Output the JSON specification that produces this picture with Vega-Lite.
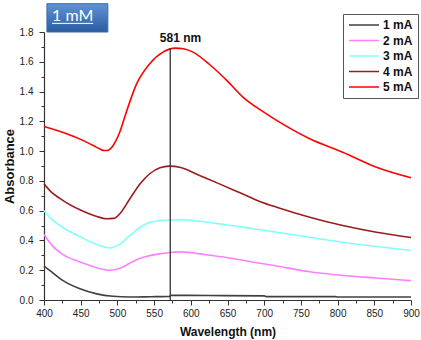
{
  "$schema": "https://vega.github.io/schema/vega-lite/v6.json",
  "autosize": "none",
  "width": 367,
  "height": 268,
  "padding": {"left": 44, "top": 32, "right": 10, "bottom": 40},
  "background": "white",
  "config": {
    "view": {"stroke": null},
    "font": "Liberation Sans",
    "axis": {
      "domainColor": "#333333",
      "domainWidth": 1.2,
      "tickColor": "#333333",
      "tickWidth": 1,
      "labelFont": "Liberation Sans",
      "labelFontSize": 10,
      "labelColor": "#222222",
      "labelOverlap": false,
      "titleFont": "Liberation Sans",
      "titleFontWeight": "bold",
      "titleColor": "#111111",
      "grid": false
    }
  },
  "layer": [
    {
      "data": {"values": [{}]},
      "mark": {
        "type": "rect",
        "stroke": "#3a68a8",
        "strokeWidth": 1,
        "fill": {
          "gradient": "linear",
          "x1": 0, "y1": 0, "x2": 0, "y2": 1,
          "stops": [
            {"offset": 0, "color": "#5f93d6"},
            {"offset": 1, "color": "#2c5c9f"}
          ]
        }
      },
      "encoding": {
        "x": {"datum": 404, "type": "quantitative"},
        "x2": {"datum": 487},
        "y": {"datum": 1.8, "type": "quantitative"},
        "y2": {"datum": 1.99}
      }
    },
    {
      "data": {"values": [{}]},
      "mark": {"type": "text", "font": "Lato", "fontSize": 16, "color": "white", "align": "center", "baseline": "middle"},
      "encoding": {
        "x": {"datum": 439, "type": "quantitative"},
        "y": {"datum": 1.91, "type": "quantitative"},
        "text": {"value": "1 mM"}
      }
    },
    {
      "data": {"values": [{}]},
      "mark": {"type": "rule", "color": "white", "strokeWidth": 1},
      "encoding": {
        "x": {"datum": 411, "type": "quantitative"},
        "x2": {"datum": 467},
        "y": {"datum": 1.858, "type": "quantitative"}
      }
    },
    {
      "data": {
        "values": [
          {"wl": 400, "abs": 0.228, "series": "1 mA"},
          {"wl": 410, "abs": 0.19, "series": "1 mA"},
          {"wl": 426, "abs": 0.13, "series": "1 mA"},
          {"wl": 449, "abs": 0.075, "series": "1 mA"},
          {"wl": 472, "abs": 0.041, "series": "1 mA"},
          {"wl": 494, "abs": 0.025, "series": "1 mA"},
          {"wl": 517, "abs": 0.02, "series": "1 mA"},
          {"wl": 545, "abs": 0.022, "series": "1 mA"},
          {"wl": 571, "abs": 0.024, "series": "1 mA"},
          {"wl": 573, "abs": 0.031, "series": "1 mA"},
          {"wl": 625, "abs": 0.03, "series": "1 mA"},
          {"wl": 700, "abs": 0.028, "series": "1 mA"},
          {"wl": 703, "abs": 0.023, "series": "1 mA"},
          {"wl": 797, "abs": 0.023, "series": "1 mA"},
          {"wl": 800, "abs": 0.02, "series": "1 mA"},
          {"wl": 900, "abs": 0.02, "series": "1 mA"},

          {"wl": 400, "abs": 0.44, "series": "2 mA"},
          {"wl": 410, "abs": 0.372, "series": "2 mA"},
          {"wl": 426, "abs": 0.305, "series": "2 mA"},
          {"wl": 449, "abs": 0.256, "series": "2 mA"},
          {"wl": 472, "abs": 0.216, "series": "2 mA"},
          {"wl": 490, "abs": 0.2, "series": "2 mA"},
          {"wl": 503, "abs": 0.212, "series": "2 mA"},
          {"wl": 517, "abs": 0.247, "series": "2 mA"},
          {"wl": 531, "abs": 0.28, "series": "2 mA"},
          {"wl": 544, "abs": 0.298, "series": "2 mA"},
          {"wl": 558, "abs": 0.31, "series": "2 mA"},
          {"wl": 571, "abs": 0.319, "series": "2 mA"},
          {"wl": 585, "abs": 0.323, "series": "2 mA"},
          {"wl": 600, "abs": 0.318, "series": "2 mA"},
          {"wl": 612, "abs": 0.31, "series": "2 mA"},
          {"wl": 639, "abs": 0.292, "series": "2 mA"},
          {"wl": 667, "abs": 0.27, "series": "2 mA"},
          {"wl": 694, "abs": 0.247, "series": "2 mA"},
          {"wl": 717, "abs": 0.228, "series": "2 mA"},
          {"wl": 762, "abs": 0.19, "series": "2 mA"},
          {"wl": 807, "abs": 0.165, "series": "2 mA"},
          {"wl": 853, "abs": 0.148, "series": "2 mA"},
          {"wl": 900, "abs": 0.13, "series": "2 mA"},

          {"wl": 400, "abs": 0.6, "series": "3 mA"},
          {"wl": 410, "abs": 0.545, "series": "3 mA"},
          {"wl": 426, "abs": 0.485, "series": "3 mA"},
          {"wl": 449, "abs": 0.425, "series": "3 mA"},
          {"wl": 472, "abs": 0.372, "series": "3 mA"},
          {"wl": 490, "abs": 0.35, "series": "3 mA"},
          {"wl": 503, "abs": 0.374, "series": "3 mA"},
          {"wl": 517, "abs": 0.433, "series": "3 mA"},
          {"wl": 531, "abs": 0.489, "series": "3 mA"},
          {"wl": 544, "abs": 0.52, "series": "3 mA"},
          {"wl": 558, "abs": 0.533, "series": "3 mA"},
          {"wl": 571, "abs": 0.537, "series": "3 mA"},
          {"wl": 585, "abs": 0.538, "series": "3 mA"},
          {"wl": 612, "abs": 0.529, "series": "3 mA"},
          {"wl": 639, "abs": 0.511, "series": "3 mA"},
          {"wl": 667, "abs": 0.493, "series": "3 mA"},
          {"wl": 694, "abs": 0.472, "series": "3 mA"},
          {"wl": 717, "abs": 0.455, "series": "3 mA"},
          {"wl": 762, "abs": 0.421, "series": "3 mA"},
          {"wl": 807, "abs": 0.388, "series": "3 mA"},
          {"wl": 853, "abs": 0.359, "series": "3 mA"},
          {"wl": 900, "abs": 0.332, "series": "3 mA"},

          {"wl": 400, "abs": 0.78, "series": "4 mA"},
          {"wl": 408, "abs": 0.735, "series": "4 mA"},
          {"wl": 426, "abs": 0.668, "series": "4 mA"},
          {"wl": 449, "abs": 0.606, "series": "4 mA"},
          {"wl": 472, "abs": 0.561, "series": "4 mA"},
          {"wl": 485, "abs": 0.546, "series": "4 mA"},
          {"wl": 495, "abs": 0.548, "series": "4 mA"},
          {"wl": 503, "abs": 0.578, "series": "4 mA"},
          {"wl": 517, "abs": 0.68, "series": "4 mA"},
          {"wl": 531, "abs": 0.78, "series": "4 mA"},
          {"wl": 544, "abs": 0.848, "series": "4 mA"},
          {"wl": 558, "abs": 0.888, "series": "4 mA"},
          {"wl": 571, "abs": 0.899, "series": "4 mA"},
          {"wl": 585, "abs": 0.892, "series": "4 mA"},
          {"wl": 612, "abs": 0.836, "series": "4 mA"},
          {"wl": 639, "abs": 0.78, "series": "4 mA"},
          {"wl": 667, "abs": 0.72, "series": "4 mA"},
          {"wl": 694, "abs": 0.662, "series": "4 mA"},
          {"wl": 717, "abs": 0.623, "series": "4 mA"},
          {"wl": 762, "abs": 0.556, "series": "4 mA"},
          {"wl": 807, "abs": 0.5, "series": "4 mA"},
          {"wl": 853, "abs": 0.455, "series": "4 mA"},
          {"wl": 900, "abs": 0.42, "series": "4 mA"},

          {"wl": 400, "abs": 1.166, "series": "5 mA"},
          {"wl": 431, "abs": 1.117, "series": "5 mA"},
          {"wl": 453, "abs": 1.072, "series": "5 mA"},
          {"wl": 470, "abs": 1.03, "series": "5 mA"},
          {"wl": 477, "abs": 1.012, "series": "5 mA"},
          {"wl": 482, "abs": 1.004, "series": "5 mA"},
          {"wl": 486, "abs": 1.004, "series": "5 mA"},
          {"wl": 490, "abs": 1.014, "series": "5 mA"},
          {"wl": 494, "abs": 1.036, "series": "5 mA"},
          {"wl": 498, "abs": 1.07, "series": "5 mA"},
          {"wl": 503, "abs": 1.125, "series": "5 mA"},
          {"wl": 512, "abs": 1.26, "series": "5 mA"},
          {"wl": 526, "abs": 1.45, "series": "5 mA"},
          {"wl": 544, "abs": 1.587, "series": "5 mA"},
          {"wl": 562, "abs": 1.665, "series": "5 mA"},
          {"wl": 579, "abs": 1.692, "series": "5 mA"},
          {"wl": 590, "abs": 1.688, "series": "5 mA"},
          {"wl": 603, "abs": 1.665, "series": "5 mA"},
          {"wl": 626, "abs": 1.58, "series": "5 mA"},
          {"wl": 650, "abs": 1.47, "series": "5 mA"},
          {"wl": 671, "abs": 1.363, "series": "5 mA"},
          {"wl": 700, "abs": 1.26, "series": "5 mA"},
          {"wl": 717, "abs": 1.206, "series": "5 mA"},
          {"wl": 762, "abs": 1.083, "series": "5 mA"},
          {"wl": 807, "abs": 0.993, "series": "5 mA"},
          {"wl": 853, "abs": 0.892, "series": "5 mA"},
          {"wl": 900, "abs": 0.821, "series": "5 mA"}
        ]
      },
      "mark": {"type": "line", "strokeWidth": 1.6, "interpolate": "monotone"},
      "encoding": {
        "x": {
          "field": "wl",
          "type": "quantitative",
          "scale": {"domain": [400, 900], "nice": false, "zero": false},
          "axis": {
            "title": "Wavelength (nm)",
            "titleFontSize": 12,
            "titlePadding": 8,
            "values": [400,425,450,475,500,525,550,575,600,625,650,675,700,725,750,775,800,825,850,875,900],
            "tickCount": 40,
            "format": "d",
            "labelPadding": 3,
            "labelFlush": false,
            "labelOverlap": false,
            "labelOpacity": {"condition": {"test": "datum.value % 50 == 0", "value": 1}, "value": 0},
            "tickSize": {"condition": {"test": "datum.value % 50 == 0", "value": 5}, "value": 3}
          }
        },
        "y": {
          "field": "abs",
          "type": "quantitative",
          "scale": {"domain": [0, 1.8], "nice": false},
          "axis": {
            "title": "Absorbance",
            "titleFontSize": 13,
            "titlePadding": 3,
            "values": [0,0.1,0.2,0.3,0.4,0.5,0.6,0.7,0.8,0.9,1.0,1.1,1.2,1.3,1.4,1.5,1.6,1.7,1.8],
            "tickCount": 40,
            "format": ".1f",
            "labelPadding": 6,
            "labelFlush": false,
            "labelOverlap": false,
            "labelOpacity": {"condition": {"test": "round(datum.value*10) % 2 == 0", "value": 1}, "value": 0},
            "tickSize": {"condition": {"test": "round(datum.value*10) % 2 == 0", "value": 5}, "value": 3}
          }
        },
        "color": {
          "field": "series",
          "type": "nominal",
          "scale": {
            "domain": ["1 mA", "2 mA", "3 mA", "4 mA", "5 mA"],
            "range": ["#404040", "#ff80ff", "#80ffff", "#9b1c1c", "#ff0000"]
          },
          "legend": {
            "title": null,
            "orient": "none",
            "legendX": 299,
            "legendY": -18,
            "strokeColor": "#555555",
            "fillColor": "white",
            "padding": 5,
            "symbolType": "M-1,0H5",
            "symbolSize": 100,
            "symbolStrokeWidth": 1.5,
            "labelFontSize": 12,
            "labelFontWeight": "bold",
            "labelColor": "#111111",
            "labelOffset": 23,
            "rowPadding": 3.5
          }
        }
      }
    },
    {
      "data": {"values": [{}]},
      "mark": {"type": "rule", "color": "#333333", "strokeWidth": 1.3},
      "encoding": {
        "x": {"datum": 572, "type": "quantitative"},
        "y": {"datum": 0, "type": "quantitative"},
        "y2": {"datum": 1.692}
      }
    },
    {
      "data": {"values": [{}]},
      "mark": {"type": "text", "fontSize": 12, "fontWeight": "bold", "color": "#111111", "align": "center", "baseline": "middle"},
      "encoding": {
        "x": {"datum": 586, "type": "quantitative"},
        "y": {"datum": 1.758, "type": "quantitative"},
        "text": {"value": "581 nm"}
      }
    }
  ]
}
